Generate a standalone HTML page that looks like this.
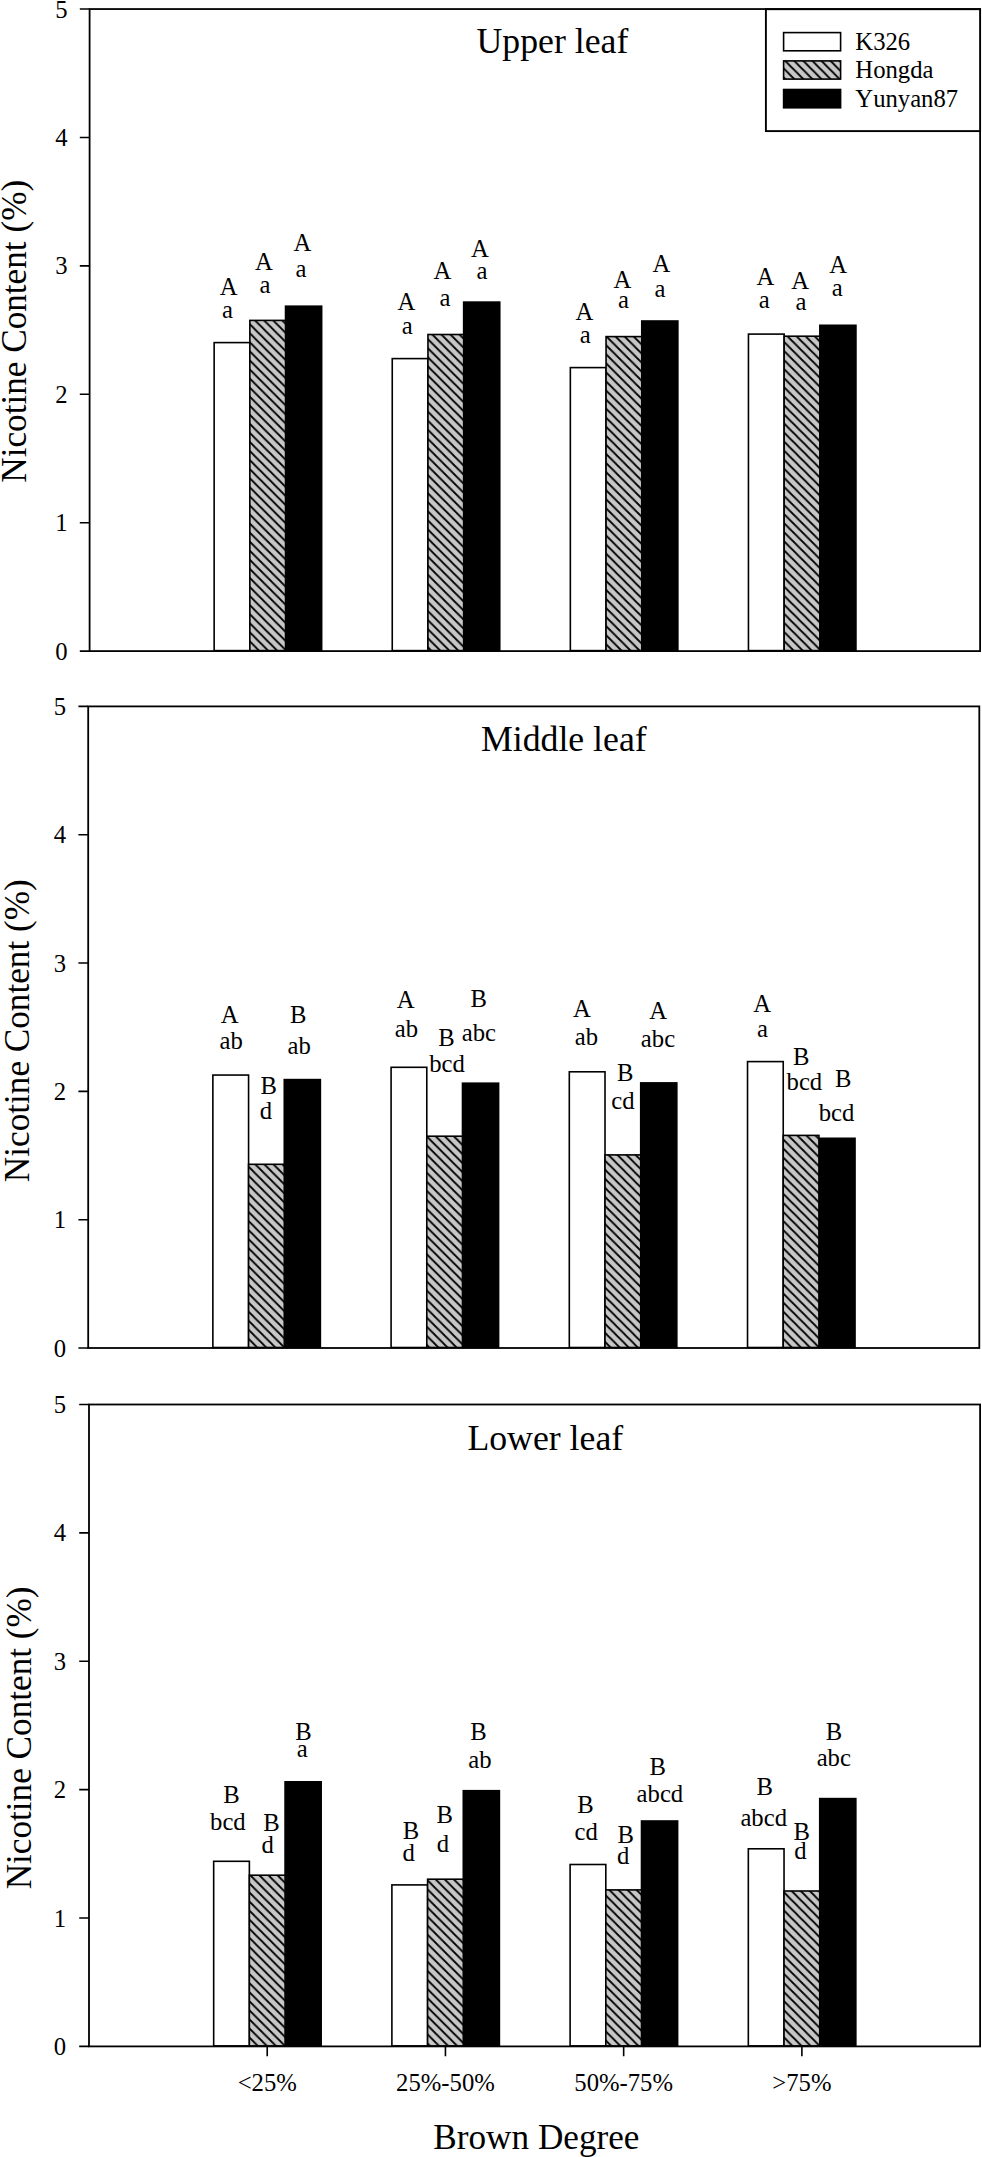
<!DOCTYPE html>
<html lang="en"><head><meta charset="utf-8"><title>Nicotine Content by Brown Degree</title>
<style>html,body{margin:0;padding:0;background:#fff}svg{display:block}text{font-family:"Liberation Serif",serif;fill:#000;font-kerning:none}.s{font-size:24.7px}.b{font-size:35.75px}.t{font-size:35.2px}.m{text-anchor:middle}.e{text-anchor:end}.ax{stroke:#000;stroke-width:1.8;fill:none;stroke-linecap:butt}.tk{stroke:#000;stroke-width:1.6;fill:none}.w{fill:#fff;stroke:#000;stroke-width:1.6}.h{stroke:#000;stroke-width:1.6}.h1{fill:url(#hatch1)}.h2{fill:url(#hatch2)}.h3{fill:url(#hatch3)}.h4{fill:url(#hatch4)}.k{fill:#000;stroke:#000;stroke-width:1.6}</style></head><body>
<svg width="982" height="2157" viewBox="0 0 982 2157">
<defs>
<pattern id="hatch1" patternUnits="userSpaceOnUse" x="0" y="1.9" width="9.0625" height="9.0625"><rect width="9.0625" height="9.0625" fill="#c7c7c7"/><path d="M-9.0625,-9.0625 L18.125,18.125 M-9.0625,0 L9.0625,18.125 M0,-9.0625 L18.125,9.0625" stroke="#000" stroke-width="1.8" fill="none"/></pattern>
<pattern id="hatch2" patternUnits="userSpaceOnUse" x="0" y="2.77" width="9.0625" height="9.0625"><rect width="9.0625" height="9.0625" fill="#c7c7c7"/><path d="M-9.0625,-9.0625 L18.125,18.125 M-9.0625,0 L9.0625,18.125 M0,-9.0625 L18.125,9.0625" stroke="#000" stroke-width="1.8" fill="none"/></pattern>
<pattern id="hatch3" patternUnits="userSpaceOnUse" x="0" y="2.78" width="9.0625" height="9.0625"><rect width="9.0625" height="9.0625" fill="#c7c7c7"/><path d="M-9.0625,-9.0625 L18.125,18.125 M-9.0625,0 L9.0625,18.125 M0,-9.0625 L18.125,9.0625" stroke="#000" stroke-width="1.8" fill="none"/></pattern>
<pattern id="hatch4" patternUnits="userSpaceOnUse" x="0" y="0.7" width="9.0625" height="9.0625"><rect width="9.0625" height="9.0625" fill="#c7c7c7"/><path d="M-9.0625,-9.0625 L18.125,18.125 M-9.0625,0 L9.0625,18.125 M0,-9.0625 L18.125,9.0625" stroke="#000" stroke-width="1.8" fill="none"/></pattern>
</defs>
<rect width="982" height="2157" fill="#fff"/>
<g id="panel1">
<rect class="w" x="214.15" y="342.60" width="35.70" height="308.00"/>
<rect class="k" x="285.55" y="306.20" width="36.10" height="344.40"/>
<rect class="h h1" x="249.85" y="320.40" width="35.70" height="330.20"/>
<rect class="w" x="392.25" y="358.60" width="35.70" height="292.00"/>
<rect class="k" x="463.65" y="302.10" width="36.10" height="348.50"/>
<rect class="h h1" x="427.95" y="334.50" width="35.70" height="316.10"/>
<rect class="w" x="570.35" y="367.60" width="35.70" height="283.00"/>
<rect class="k" x="641.75" y="321.00" width="36.10" height="329.60"/>
<rect class="h h1" x="606.05" y="336.60" width="35.70" height="314.00"/>
<rect class="w" x="748.45" y="334.10" width="35.70" height="316.50"/>
<rect class="k" x="819.85" y="325.30" width="36.10" height="325.30"/>
<rect class="h h1" x="784.15" y="336.20" width="35.70" height="314.40"/>
<rect class="ax" x="89.6" y="9.05" width="890.50" height="642.05"/>
<text class="s e" x="67.6" y="659.60">0</text>
<text class="s e" x="67.6" y="531.19">1</text>
<text class="s e" x="67.6" y="402.78">2</text>
<text class="s e" x="67.6" y="274.37">3</text>
<text class="s e" x="67.6" y="145.96">4</text>
<text class="s e" x="67.6" y="17.55">5</text>
<path class="tk" d="M79.80,651.10H89.60M79.80,522.69H89.60M79.80,394.28H89.60M79.80,265.87H89.60M79.80,137.46H89.60M79.80,9.05H89.60"/>
<text class="b m" x="552.4" y="53.0">Upper leaf</text>
<text class="t m" transform="translate(25.7,331.3) rotate(-90)">Nicotine Content (%)</text>
</g>
<g id="panel2">
<rect class="w" x="212.87" y="1075.05" width="35.70" height="272.45"/>
<rect class="k" x="284.27" y="1079.60" width="36.10" height="267.90"/>
<rect class="h h2" x="248.57" y="1164.30" width="35.70" height="183.20"/>
<rect class="w" x="391.09" y="1067.30" width="35.70" height="280.20"/>
<rect class="k" x="462.49" y="1083.20" width="36.10" height="264.30"/>
<rect class="h h2" x="426.79" y="1136.20" width="35.70" height="211.30"/>
<rect class="w" x="569.31" y="1071.80" width="35.70" height="275.70"/>
<rect class="k" x="640.71" y="1082.90" width="36.10" height="264.60"/>
<rect class="h h2" x="605.01" y="1154.90" width="35.70" height="192.60"/>
<rect class="w" x="747.53" y="1061.60" width="35.70" height="285.90"/>
<rect class="k" x="818.93" y="1138.30" width="36.10" height="209.20"/>
<rect class="h h2" x="783.23" y="1135.40" width="35.70" height="212.10"/>
<rect class="ax" x="88.2" y="706.4" width="891.10" height="641.60"/>
<text class="s e" x="66.2" y="1356.50">0</text>
<text class="s e" x="66.2" y="1228.18">1</text>
<text class="s e" x="66.2" y="1099.86">2</text>
<text class="s e" x="66.2" y="971.54">3</text>
<text class="s e" x="66.2" y="843.22">4</text>
<text class="s e" x="66.2" y="714.90">5</text>
<path class="tk" d="M78.40,1348.00H88.20M78.40,1219.68H88.20M78.40,1091.36H88.20M78.40,963.04H88.20M78.40,834.72H88.20M78.40,706.40H88.20"/>
<text class="b m" x="563.8" y="750.7">Middle leaf</text>
<text class="t m" transform="translate(29.2,1030.7) rotate(-90)">Nicotine Content (%)</text>
</g>
<g id="panel3">
<rect class="w" x="213.67" y="1861.30" width="35.70" height="184.60"/>
<rect class="k" x="285.07" y="1781.80" width="36.10" height="264.10"/>
<rect class="h h3" x="249.37" y="1875.20" width="35.70" height="170.70"/>
<rect class="w" x="391.89" y="1884.90" width="35.70" height="161.00"/>
<rect class="k" x="463.29" y="1790.70" width="36.10" height="255.20"/>
<rect class="h h3" x="427.59" y="1879.20" width="35.70" height="166.70"/>
<rect class="w" x="570.11" y="1864.50" width="35.70" height="181.40"/>
<rect class="k" x="641.51" y="1821.00" width="36.10" height="224.90"/>
<rect class="h h3" x="605.81" y="1889.90" width="35.70" height="156.00"/>
<rect class="w" x="748.33" y="1848.80" width="35.70" height="197.10"/>
<rect class="k" x="819.73" y="1798.60" width="36.10" height="247.30"/>
<rect class="h h3" x="784.03" y="1891.00" width="35.70" height="154.90"/>
<rect class="ax" x="89.0" y="1404.5" width="891.10" height="641.90"/>
<text class="s e" x="66.0" y="2054.90">0</text>
<text class="s e" x="66.0" y="1926.52">1</text>
<text class="s e" x="66.0" y="1798.14">2</text>
<text class="s e" x="66.0" y="1669.76">3</text>
<text class="s e" x="66.0" y="1541.38">4</text>
<text class="s e" x="66.0" y="1413.00">5</text>
<path class="tk" d="M79.20,2046.40H89.00M79.20,1918.02H89.00M79.20,1789.64H89.00M79.20,1661.26H89.00M79.20,1532.88H89.00M79.20,1404.50H89.00M267.22,2046.40V2056.20M445.44,2046.40V2056.20M623.66,2046.40V2056.20M801.88,2046.40V2056.20"/>
<text class="b m" x="545.3" y="1450.2">Lower leaf</text>
<text class="t m" transform="translate(30.8,1737.9) rotate(-90)">Nicotine Content (%)</text>
</g>
<g id="legend">
<rect x="765.9" y="9.2" width="214.2" height="121.9" fill="#fff" stroke="#000" stroke-width="1.9"/>
<rect class="w" x="783.6" y="32.6" width="57" height="18.2"/>
<rect class="h h4" x="783.6" y="60.9" width="57" height="18.2"/>
<rect class="k" x="783.6" y="89.5" width="57" height="18.3"/>
<text class="s" x="855.3" y="50.3">K326</text>
<text class="s" x="855.3" y="78.4">Hongda</text>
<text class="s" x="855.3" y="106.8">Yunyan87</text>
</g>
<g id="letters" class="s m">
<text x="228.6" y="294.6">A</text>
<text x="227.4" y="318.4">a</text>
<text x="263.9" y="269.5">A</text>
<text x="265.0" y="292.7">a</text>
<text x="302.3" y="251.1">A</text>
<text x="301.0" y="277.3">a</text>
<text x="406.4" y="309.5">A</text>
<text x="407.3" y="334.1">a</text>
<text x="442.4" y="278.7">A</text>
<text x="445.0" y="305.5">a</text>
<text x="479.9" y="256.8">A</text>
<text x="481.9" y="278.5">a</text>
<text x="584.4" y="319.5">A</text>
<text x="585.3" y="343.3">a</text>
<text x="622.5" y="287.5">A</text>
<text x="623.6" y="308.4">a</text>
<text x="661.4" y="272.3">A</text>
<text x="660.1" y="296.7">a</text>
<text x="765.4" y="284.9">A</text>
<text x="764.2" y="308.1">a</text>
<text x="800.2" y="288.5">A</text>
<text x="801.0" y="309.8">a</text>
<text x="838.1" y="272.8">A</text>
<text x="837.2" y="296.3">a</text>
<text x="229.7" y="1022.6">A</text>
<text x="231.1" y="1049.1">ab</text>
<text x="268.7" y="1094.3">B</text>
<text x="265.8" y="1118.7">d</text>
<text x="298.2" y="1023.4">B</text>
<text x="299.1" y="1054.4">ab</text>
<text x="405.7" y="1007.8">A</text>
<text x="406.4" y="1036.8">ab</text>
<text x="446.6" y="1045.8">B</text>
<text x="447.0" y="1071.8">bcd</text>
<text x="478.7" y="1006.7">B</text>
<text x="478.9" y="1041.2">abc</text>
<text x="581.8" y="1017.3">A</text>
<text x="586.5" y="1045.3">ab</text>
<text x="625.2" y="1081.3">B</text>
<text x="623.0" y="1109.0">cd</text>
<text x="658.2" y="1018.6">A</text>
<text x="658.0" y="1046.9">abc</text>
<text x="762.2" y="1011.5">A</text>
<text x="762.5" y="1036.5">a</text>
<text x="801.2" y="1065.0">B</text>
<text x="804.4" y="1089.8">bcd</text>
<text x="843.2" y="1087.0">B</text>
<text x="836.6" y="1121.2">bcd</text>
<text x="231.6" y="1803.0">B</text>
<text x="227.9" y="1829.5">bcd</text>
<text x="271.5" y="1830.8">B</text>
<text x="267.6" y="1852.8">d</text>
<text x="303.5" y="1740.2">B</text>
<text x="302.2" y="1756.5">a</text>
<text x="411.0" y="1838.5">B</text>
<text x="408.7" y="1861.3">d</text>
<text x="444.8" y="1822.7">B</text>
<text x="442.9" y="1852.0">d</text>
<text x="478.6" y="1739.6">B</text>
<text x="479.9" y="1767.6">ab</text>
<text x="585.5" y="1813.4">B</text>
<text x="586.2" y="1840.2">cd</text>
<text x="625.8" y="1842.5">B</text>
<text x="623.2" y="1864.2">d</text>
<text x="657.8" y="1775.4">B</text>
<text x="659.9" y="1802.0">abcd</text>
<text x="764.7" y="1795.0">B</text>
<text x="763.7" y="1825.5">abcd</text>
<text x="801.8" y="1839.8">B</text>
<text x="800.5" y="1858.9">d</text>
<text x="833.9" y="1739.6">B</text>
<text x="833.8" y="1765.5">abc</text>
</g>
<text class="s m" x="267.22" y="2091.0">&lt;25%</text>
<text class="s m" x="445.44" y="2091.0">25%-50%</text>
<text class="s m" x="623.66" y="2091.0">50%-75%</text>
<text class="s m" x="801.88" y="2091.0">&gt;75%</text>
<text class="t m" x="536.4" y="2148.9">Brown Degree</text>
</svg></body></html>
